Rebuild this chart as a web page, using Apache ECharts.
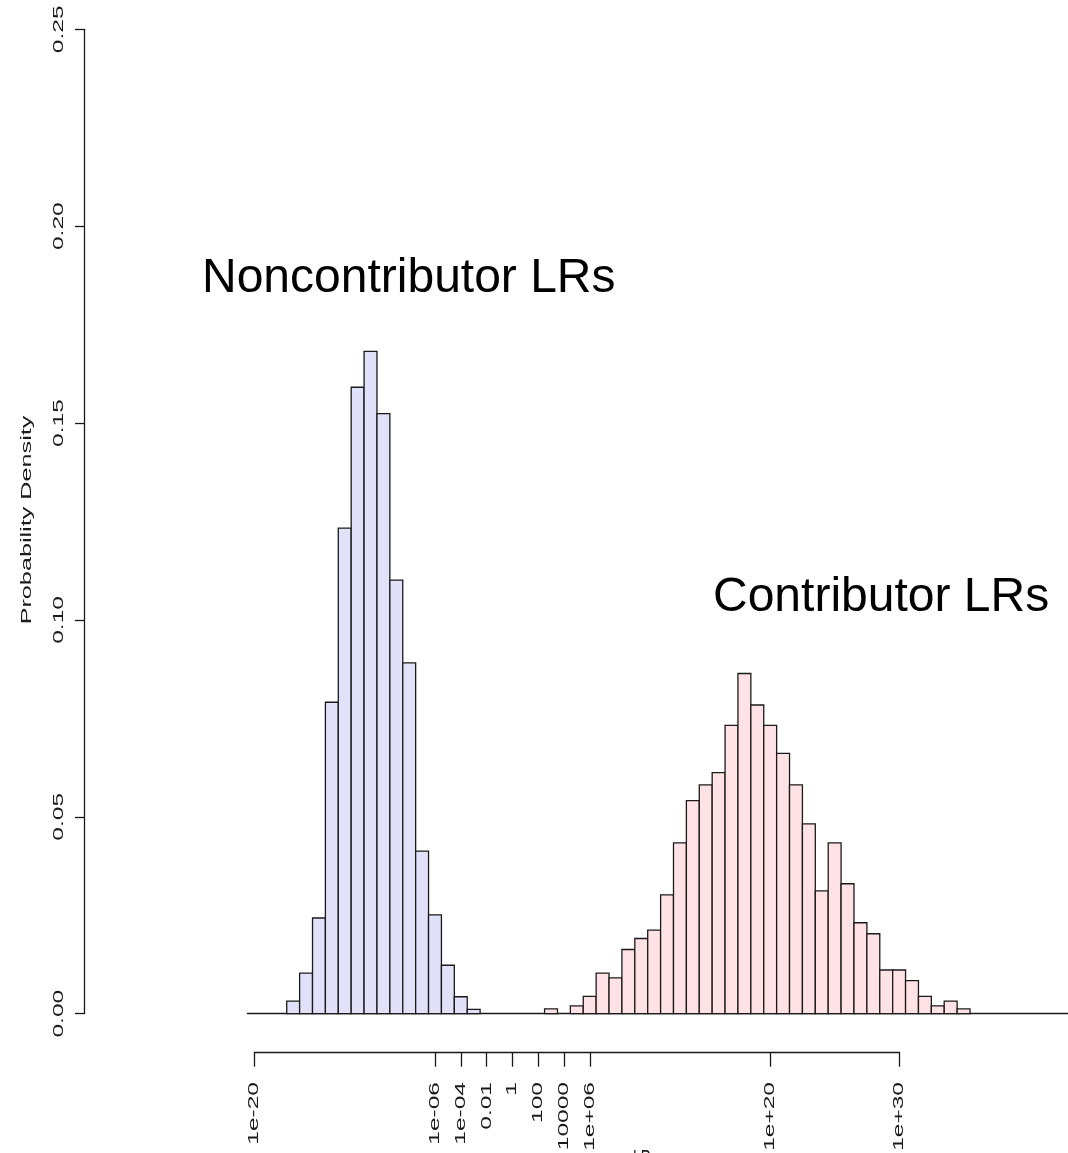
<!DOCTYPE html>
<html>
<head>
<meta charset="utf-8">
<style>
  html, body { margin: 0; padding: 0; background: #ffffff; }
  #chart { width: 1068px; height: 1153px; }
</style>
<script src="https://cdn.jsdelivr.net/npm/echarts@6/dist/echarts.min.js"></script>
</head>
<body>
<div id="chart"></div>
<script>
// ---- data (x = log10 LR, histogram bin centres; bins are 1 log10 unit wide) ----
const BIN_WIDTH = 1;
const ncBins = [-17, -16, -15, -14, -13, -12, -11, -10, -9, -8, -7, -6, -5, -4, -3];
const ncDensity = [0.0032, 0.0103, 0.0243, 0.0791, 0.1233, 0.1591, 0.1682, 0.1524, 0.1101, 0.0891, 0.0413, 0.0251, 0.0123, 0.0043, 0.0011];

const cBins = [3, 5, 6, 7, 8, 9, 10, 11, 12, 13, 14, 15, 16, 17, 18, 19, 20, 21, 22, 23, 24, 25, 26, 27, 28, 29, 30, 31, 32, 33, 34, 35];
const cDensity = [0.0012, 0.0020, 0.0044, 0.0103, 0.0091, 0.0163, 0.0191, 0.0212, 0.0302, 0.0434, 0.0541, 0.0581, 0.0612, 0.0732, 0.0864, 0.0784, 0.0732, 0.0661, 0.0581, 0.0482, 0.0312, 0.0434, 0.0330, 0.0231, 0.0203, 0.0111, 0.0111, 0.0084, 0.0044, 0.0020, 0.0032, 0.0012];

const xTickVals = [-20, -6, -4, -2, 0, 2, 4, 6, 20, 30];
const xTickLabels = ['1e-20', '1e-06', '1e-04', '0.01', '1', '100', '10000', '1e+06', '1e+20', '1e+30'];
const yTickVals = [0, 0.05, 0.10, 0.15, 0.20, 0.25];
const yTickLabels = ['0.00', '0.05', '0.10', '0.15', '0.20', '0.25'];

const yTitle = 'Probability Density';
const xTitle = 'LR';
const ncLabel = 'Noncontributor LRs';
const cLabel = 'Contributor LRs';

// ---- styling ----
const FONT = '"Liberation Sans", Arial, Helvetica, sans-serif';
const INK = '#1a1a1a';
const STRETCH = 1.75;   // elongated axis texts as in the reference

const chart = echarts.init(document.getElementById('chart'), null, { renderer: 'canvas' });

function histItem(fill) {
  return function (params, api) {
    const c = api.value(0), h = api.value(1);
    const p0 = api.coord([c - BIN_WIDTH / 2, h]);
    const p1 = api.coord([c + BIN_WIDTH / 2, 0]);
    return {
      type: 'rect',
      shape: { x: p0[0], y: p0[1], width: p1[0] - p0[0], height: p1[1] - p0[1] },
      style: { fill: fill, stroke: INK, lineWidth: 1.3 }
    };
  };
}

const GRID_TOP = 29.3, GRID_H = 984.4;
const PX_PER_UNIT = 12.9;
const X0_PX = 254.5; // pixel of x=-20

const mainXMin = -20.55, mainXMax = 43.1;

const option = {
  animation: false,
  backgroundColor: '#ffffff',
  grid: [
    { left: X0_PX + (mainXMin + 20) * PX_PER_UNIT, top: GRID_TOP, width: (mainXMax - mainXMin) * PX_PER_UNIT, height: GRID_H },
    { left: 84, top: GRID_TOP, width: 1, height: GRID_H },
    { left: X0_PX, top: 1051.7, width: 50 * PX_PER_UNIT, height: 1 }
  ],
  xAxis: [
    { gridIndex: 0, type: 'value', min: mainXMin, max: mainXMax,
      axisLine: { show: true, onZero: false, lineStyle: { color: INK, width: 1.3 } },
      axisTick: { show: false }, axisLabel: { show: false }, splitLine: { show: false } },
    { gridIndex: 1, type: 'value', show: false, min: 0, max: 1 },
    { gridIndex: 2, type: 'value', min: -20, max: 30,
      axisLine: { show: true, onZero: false, lineStyle: { color: INK, width: 1.3 } },
      axisTick: { show: true, customValues: xTickVals, length: 14, lineStyle: { color: INK, width: 1.3 } },
      axisLabel: { show: false }, splitLine: { show: false } }
  ],
  yAxis: [
    { gridIndex: 0, type: 'value', min: 0, max: 0.25, show: false },
    { gridIndex: 1, type: 'value', min: 0, max: 0.25, interval: 0.05, position: 'left',
      axisLine: { show: true, lineStyle: { color: INK, width: 1.3 } },
      axisTick: { show: true, length: 9, lineStyle: { color: INK, width: 1.3 } },
      axisLabel: { show: false }, splitLine: { show: false } },
    { gridIndex: 2, type: 'value', show: false, min: 0, max: 1 }
  ],
  series: [
    { name: ncLabel, type: 'custom', xAxisIndex: 0, yAxisIndex: 0,
      renderItem: histItem('#e1e1fa'),
      data: ncBins.map((b, i) => [b, ncDensity[i]]) },
    { name: cLabel, type: 'custom', xAxisIndex: 0, yAxisIndex: 0,
      renderItem: histItem('#ffe2e5'),
      data: cBins.map((b, i) => [b, cDensity[i]]) }
  ]
};
chart.setOption(option);

// ---- texts placed from the axis scales ----
const g = [];
xTickVals.forEach((v, i) => {
  const px = chart.convertToPixel({ xAxisIndex: 2 }, v);
  g.push({ type: 'text', x: px, y: 1082, rotation: Math.PI / 2, scaleX: STRETCH,
    style: { text: xTickLabels[i], font: '14px ' + FONT, fill: INK, align: 'right', verticalAlign: 'middle' } });
});
yTickVals.forEach((v, i) => {
  const py = chart.convertToPixel({ yAxisIndex: 1 }, v);
  g.push({ type: 'text', x: 59, y: py, rotation: Math.PI / 2, scaleX: STRETCH,
    style: { text: yTickLabels[i], font: '14px ' + FONT, fill: INK, align: 'center', verticalAlign: 'middle' } });
});
g.push({ type: 'text', x: 27, y: 520, rotation: Math.PI / 2, scaleX: 1.8,
  style: { text: yTitle, font: '14px ' + FONT, fill: INK, align: 'center', verticalAlign: 'middle' } });
g.push({ type: 'text', x: 642, y: 1148, scaleY: STRETCH,
  style: { text: xTitle, font: '14px ' + FONT, fill: INK, align: 'center', verticalAlign: 'top' } });
g.push({ type: 'text', x: 202, y: 279,
  style: { text: ncLabel, font: '48px ' + FONT, fill: '#000000', align: 'left', verticalAlign: 'middle' } });
g.push({ type: 'text', x: 713, y: 598,
  style: { text: cLabel, font: '48px ' + FONT, fill: '#000000', align: 'left', verticalAlign: 'middle' } });
chart.setOption({ graphic: g });
</script>
</body>
</html>
